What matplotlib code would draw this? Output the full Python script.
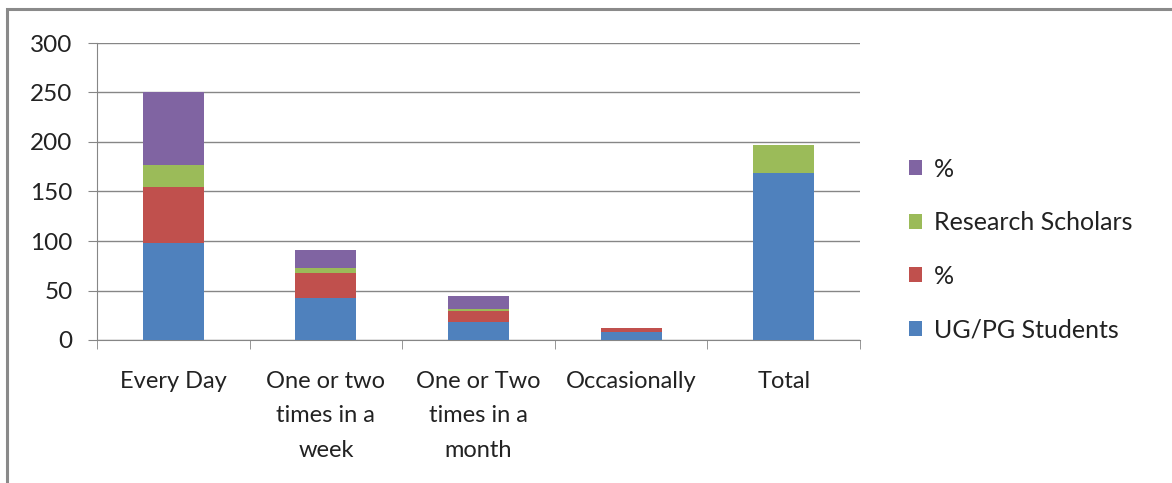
import numpy as np
import matplotlib
matplotlib.use("Agg")
import matplotlib.pyplot as plt
from matplotlib.patches import Rectangle

categories = ["Every Day", "One or two\ntimes in a\nweek", "One or Two\ntimes in a\nmonth",
              "Occasionally", "Total"]
ug_pg = [98, 42, 18, 8.5, 169]
ug_pct = [57, 26, 11, 4, 0]
rs = [22, 5, 2, 0, 28]
rs_pct = [73, 18, 13, 0, 0]

series = [("UG/PG Students", ug_pg, "#4F81BD"),
          ("%", ug_pct, "#C0504D"),
          ("Research Scholars", rs, "#9BBB59"),
          ("%", rs_pct, "#8064A2")]

plt.rcParams['font.family'] = ['Lato', 'DejaVu Sans']

fig = plt.figure(figsize=(11.72, 4.83), dpi=100)
ax = fig.add_axes([97 / 1172, 1 - 340 / 483, 763 / 1172, 297 / 483])

x = np.arange(len(categories))
bottom = np.zeros(len(categories))
handles = []
for name, vals, col in series:
    b = ax.bar(x, vals, width=0.4, bottom=bottom, color=col, label=name, zorder=3)
    handles.append(b)
    bottom += np.array(vals)

ax.set_xlim(-0.5, len(categories) - 0.5)
ax.set_ylim(0, 300)
ax.set_yticks(range(0, 301, 50))
ax.tick_params(axis='y', labelsize=17.5, length=6.5, color='#868686', pad=11, labelcolor='#222222')
ax.yaxis.grid(True, color='#868686', linewidth=1, zorder=0)

ax.set_xticks(x)
ax.set_xticklabels(categories, fontsize=17, linespacing=1.8, color='#222222')
ax.tick_params(axis='x', length=0, pad=22)
ax.set_xticks(np.arange(-0.5, len(categories)), minor=True)
ax.tick_params(axis='x', which='minor', length=6.5, color='#868686')

for s in ['top', 'right']:
    ax.spines[s].set_visible(False)
for s in ['left', 'bottom']:
    ax.spines[s].set_color('#868686')

leg = fig.legend(handles[::-1], [h.get_label() for h in handles[::-1]],
                 loc='center left', bbox_to_anchor=(886 / 1172, 1 - 249.5 / 483),
                 frameon=False, fontsize=18, labelspacing=1.22,
                 handlelength=0.55, handleheight=0.55, handletextpad=0.45)
for t in leg.get_texts():
    t.set_color('#222222')

# outer chart frame (open on the right and bottom, as in the crop)
fig.patches.append(Rectangle((7 / 1172, -0.05), 1.2, 1 - 9 / 483 + 0.05,
                             transform=fig.transFigure, fill=False,
                             edgecolor='#8a8a8a', linewidth=2.2))

fig.savefig("out.png", dpi=100)
